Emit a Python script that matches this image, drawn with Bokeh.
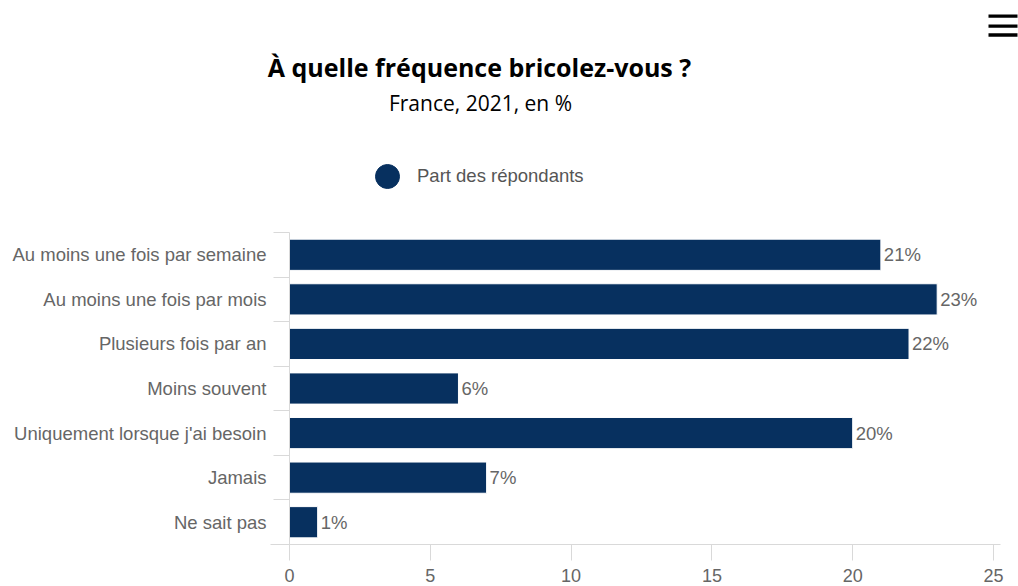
from bokeh.plotting import figure
from bokeh.models import (Range1d, FixedTicker, LinearAxis, Legend, LegendItem,
                          Label, BoxAnnotation, ColumnDataSource)
from bokeh.core.properties import value
from bokeh.embed import file_html
from bokeh.resources import INLINE

categories = ["Au moins une fois par semaine", "Au moins une fois par mois",
              "Plusieurs fois par an", "Moins souvent",
              "Uniquement lorsque j'ai besoin", "Jamais", "Ne sait pas"]
values = [21, 23, 22, 6, 20, 7, 1]
x_ticks = [0, 5, 10, 15, 20, 25]
title_text = "À quelle fréquence bricolez-vous ?"
subtitle_text = "France, 2021, en %"
series_name = "Part des répondants"

BAR = "#07305f"
GREY = "#666666"
LINE = "#d9d9d9"
LAB_FONT = "Liberation Sans"
LAB_SIZE = "18.5px"
TITLE_FONT = "Open Sans"

n = len(categories)
pos = list(range(n))
src = ColumnDataSource(dict(y=pos, v=values, lab=[f"{v}%" for v in values]))

# page geometry (pixels)
W, H = 1018, 586
PL, PR = 289, 993          # value axis: 0 and 25
PT, PB = 232, 544          # category band area
XMAX = x_ticks[-1]
px_per_x = (PR - PL) / XMAX
px_per_band = (PB - PT) / n

x_range = Range1d(-PL / px_per_x, XMAX + (W - PR) / px_per_x)
y_range = Range1d(n - 0.5 + (H - PB) / px_per_band, -0.5 - PT / px_per_band)

p = figure(width=W, height=H, output_backend="svg", toolbar_location=None,
           title=None, x_range=x_range, y_range=y_range,
           x_axis_location=None, y_axis_location=None,
           min_border=0, min_border_left=0, min_border_right=0,
           min_border_top=0, min_border_bottom=0)
p.grid.visible = False
p.outline_line_color = None
p.background_fill_color = "white"
p.border_fill_color = "white"

# value axis (bottom)
xa = LinearAxis(fixed_location=n - 0.5,
                bounds=(-19 / px_per_x, XMAX + 7 / px_per_x),
                ticker=FixedTicker(ticks=x_ticks))
xa.axis_line_color = LINE
xa.major_tick_line_color = LINE
xa.major_tick_in = 0
xa.major_tick_out = 16
xa.minor_tick_line_color = None
xa.major_label_standoff = 8
xa.major_label_text_font = LAB_FONT
xa.major_label_text_font_size = "18px"
xa.major_label_text_color = GREY
p.add_layout(xa, "below")

# category axis (left)
ya = LinearAxis(fixed_location=0, bounds=(-0.5, n - 0.5),
                ticker=FixedTicker(ticks=pos,
                                   minor_ticks=[i - 0.5 for i in range(n + 1)]))
ya.major_label_overrides = {i: c for i, c in zip(pos, categories)}
ya.axis_line_color = LINE
ya.major_tick_line_color = None
ya.major_tick_in = 0
ya.major_tick_out = 0
ya.minor_tick_line_color = LINE
ya.minor_tick_in = 0
ya.minor_tick_out = 16
ya.major_label_standoff = 7
ya.major_label_text_font = LAB_FONT
ya.major_label_text_font_size = LAB_SIZE
ya.major_label_text_color = GREY
p.add_layout(ya, "left")

bars = p.hbar(y="y", left=0, right="v", height=0.7, source=src,
              fill_color=BAR, line_color="#ffffff", line_width=1)
p.text(x="v", y="y", text="lab", source=src, x_offset=3,
       text_baseline="middle", text_align="left",
       text_font=value(LAB_FONT), text_font_size=LAB_SIZE, text_color=GREY)

# legend (circle swatch)
proxy = p.scatter(x="v", y="y", source=src, color=BAR, visible=False)
legend = Legend(items=[LegendItem(label=series_name, renderers=[proxy])],
                location=(357, H - 206), orientation="horizontal",
                glyph_width=60, glyph_height=60, padding=0, margin=0,
                label_standoff=0, border_line_color=None,
                background_fill_alpha=0,
                label_text_font=LAB_FONT, label_text_font_size=LAB_SIZE,
                label_text_color="#555555")
p.add_layout(legend, "center")

# title and subtitle
p.add_layout(Label(x=479, y=H - 66, x_units="screen", y_units="screen",
                   text=title_text, text_align="center",
                   text_baseline="alphabetic", text_font=TITLE_FONT,
                   text_font_style="bold", text_font_size="25px",
                   text_color="#000000"))
p.add_layout(Label(x=480, y=H - 102, x_units="screen", y_units="screen",
                   text=subtitle_text, text_align="center",
                   text_baseline="alphabetic", text_font=TITLE_FONT,
                   text_font_size="21px", text_color="#000000"))

# export-menu icon
for t, b in [(14, 17.3), (24, 27.3), (32.7, 36.3)]:
    p.add_layout(BoxAnnotation(left=988, right=1017, top=H - t, bottom=H - b,
                               left_units="screen", right_units="screen",
                               top_units="screen", bottom_units="screen",
                               fill_color="black", fill_alpha=1,
                               line_color=None))

open("out.html", "w").write(file_html(p, INLINE))
